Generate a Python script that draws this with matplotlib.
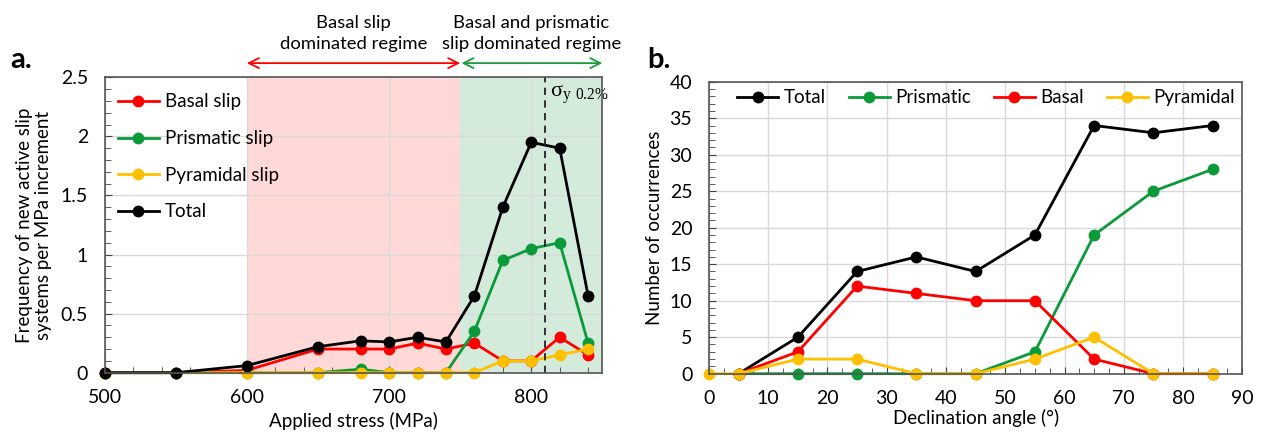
import matplotlib
matplotlib.use("Agg")
import matplotlib.pyplot as plt
from matplotlib.ticker import MultipleLocator, FormatStrFormatter

plt.rcParams['font.family'] = ['Lato', 'DejaVu Sans']
plt.rcParams['mathtext.fontset'] = 'custom'
plt.rcParams['mathtext.rm'] = 'Liberation Serif'

RED = '#ff0000'
GREEN = '#0b9a3a'
GOLD = '#ffc000'
BLACK = '#000000'

# panel a: applied stress vs frequency of new active slip systems
stress = [500, 550, 600, 650, 680, 700, 720, 740, 760, 780, 800, 820, 840]
basal_a = [0, 0, 0.02, 0.20, 0.20, 0.20, 0.25, 0.20, 0.25, 0.10, 0.10, 0.30, 0.15]
prism_a = [0, 0, 0, 0, 0.03, 0, 0, 0, 0.35, 0.95, 1.05, 1.10, 0.25]
pyram_a = [0, 0, 0, 0, 0, 0, 0, 0, 0, 0.10, 0.10, 0.15, 0.20]
total_a = [0, 0, 0.06, 0.22, 0.27, 0.26, 0.30, 0.26, 0.65, 1.40, 1.95, 1.90, 0.65]
yield_stress = 810

# panel b: declination angle vs number of occurrences
angle = [0, 5, 15, 25, 35, 45, 55, 65, 75, 85]
total_b = [None, 0, 5, 14, 16, 14, 19, 34, 33, 34]
prism_b = [None, 0, 0, 0, 0, 0, 3, 19, 25, 28]
basal_b = [None, 0, 3, 12, 11, 10, 10, 2, 0, 0]
pyram_b = [0, 0, 2, 2, 0, 0, 2, 5, 0, 0]


def clean(xs, ys):
    pts = [(x, y) for x, y in zip(xs, ys) if y is not None]
    return [p[0] for p in pts], [p[1] for p in pts]


fig = plt.figure(figsize=(12.71, 4.36), dpi=100)
ax1 = fig.add_axes([0.0824, 0.1452, 0.3915, 0.6775])
ax2 = fig.add_axes([0.5578, 0.1429, 0.4196, 0.6697])

style = dict(marker='o', markersize=7.5, linewidth=2, clip_on=False)

# ---- panel a
ax1.axvspan(600, 750, color='#ffd9d7', zorder=0, lw=0)
ax1.axvspan(750, 850, color='#d4ebdc', zorder=0, lw=0)
ax1.plot(stress, basal_a, color=RED, label='Basal slip', **style)
ax1.plot(stress, prism_a, color=GREEN, label='Prismatic slip', **style)
ax1.plot(stress, pyram_a, color=GOLD, label='Pyramidal slip', **style)
ax1.plot(stress, total_a, color=BLACK, label='Total', **style)
ax1.axvline(yield_stress, color='#222222', ls=(0, (4, 3)), lw=1.3)
ax1.text(yield_stress + 3, 2.45, r'$\mathrm{\sigma}_{\mathrm{y\ 0.2\%}}$',
         fontsize=16, va='top', ha='left')

ax1.set_xlim(500, 850)
ax1.set_ylim(0, 2.5)
ax1.xaxis.set_major_locator(MultipleLocator(100))
ax1.xaxis.set_minor_locator(MultipleLocator(20))
ax1.yaxis.set_major_locator(MultipleLocator(0.5))
ax1.yaxis.set_minor_locator(MultipleLocator(0.1))
ax1.yaxis.set_major_formatter(FormatStrFormatter('%g'))
ax1.set_xlabel('Applied stress (MPa)', fontsize=13.5, labelpad=4)
ax1.set_ylabel('Frequency of new active slip\nsystems per MPa increment',
               fontsize=13.5, labelpad=6)
ax1.legend(loc='upper left', frameon=False, fontsize=13.5, labelspacing=1.05,
           handlelength=2.2, handletextpad=0.3, borderaxespad=0.3,
           bbox_to_anchor=(0.0, 0.99))

# regime annotations
ax1.annotate('', xy=(600, 2.62), xytext=(750, 2.62), annotation_clip=False,
             arrowprops=dict(arrowstyle='<->', color=RED, lw=1.3,
                             shrinkA=0, shrinkB=0, mutation_scale=18))
ax1.annotate('', xy=(751, 2.62), xytext=(850, 2.62), annotation_clip=False,
             arrowprops=dict(arrowstyle='<->', color='#1a9c3e', lw=1.3,
                             shrinkA=0, shrinkB=0, mutation_scale=18))
ax1.text(675, 2.71, 'Basal slip\ndominated regime', ha='center', va='bottom',
         fontsize=13.3, linespacing=1.45)
ax1.text(800, 2.71, 'Basal and prismatic\nslip dominated regime', ha='center',
         va='bottom', fontsize=13.3, linespacing=1.45)

# ---- panel b
for ys, c, lab in [(total_b, BLACK, 'Total'), (prism_b, GREEN, 'Prismatic'),
                   (basal_b, RED, 'Basal'), (pyram_b, GOLD, 'Pyramidal')]:
    xs, yy = clean(angle, ys)
    ax2.plot(xs, yy, color=c, label=lab, **style)

ax2.set_xlim(0, 90)
ax2.set_ylim(0, 40)
ax2.xaxis.set_major_locator(MultipleLocator(10))
ax2.xaxis.set_minor_locator(MultipleLocator(2.5))
ax2.yaxis.set_major_locator(MultipleLocator(5))
ax2.yaxis.set_minor_locator(MultipleLocator(1))
ax2.set_xlabel('Declination angle (°)', fontsize=13.5, labelpad=1)
ax2.set_ylabel('Number of occurrences', fontsize=13.5, labelpad=5)
ax2.legend(loc='center', bbox_to_anchor=(0.52, 0.945), ncol=4, frameon=False,
           fontsize=13.5, handlelength=2.2, handletextpad=0.3, columnspacing=1.2)

for ax in (ax1, ax2):
    ax.set_axisbelow(True)
    ax.grid(True, which='major', color='#d9d9d9', lw=1)
    ax.tick_params(which='both', direction='in', labelsize=14, color='#444444')
    ax.tick_params(which='major', length=5, pad=12)
    ax.tick_params(which='minor', length=4)
    for s in ax.spines.values():
        s.set_color('#555555')
        s.set_linewidth(1.2)
        s.set_zorder(3)

fig.text(0.008, 0.844, 'a.', fontsize=21, fontweight='bold', va='baseline')
fig.text(0.509, 0.844, 'b.', fontsize=21, fontweight='bold', va='baseline')

fig.savefig('out.png', dpi=100)
